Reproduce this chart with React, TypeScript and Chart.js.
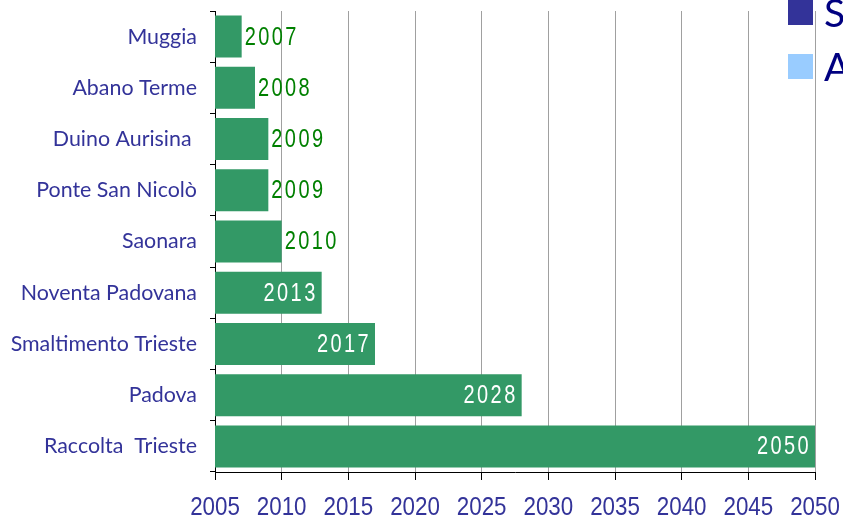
import React, { useEffect, useRef } from "react";
import { Chart, registerables } from "chart.js";

Chart.register(...registerables);

const categories = [
  "Muggia",
  "Abano Terme",
  "Duino Aurisina ",
  "Ponte San Nicolò",
  "Saonara",
  "Noventa Padovana",
  "Smaltimento Trieste",
  "Padova",
  "Raccolta  Trieste",
];
const startYear = 2005;
const endYears = [2007, 2008, 2009, 2009, 2010, 2013, 2017, 2028, 2050];
const axisMin = 2005;
const axisMax = 2050;
const axisStep = 5;
const legendLabels = ["S", "A"];
const legendColors = ["#333399", "#99CCFF"];

const BAR = "#339966";
const NAVY = "#333399";
const NUM_FONT = "'Liberation Sans', Arial, sans-serif";

const labelPlugin = {
  id: "barLabels",
  afterDatasetsDraw(chart: any) {
    const ctx = chart.ctx;
    const meta = chart.getDatasetMeta(0);
    const sx = 0.8;
    ctx.save();
    ctx.font = `25px ${NUM_FONT}`;
    (ctx as any).letterSpacing = "3px";
    ctx.textBaseline = "middle";
    meta.data.forEach((el: any, i: number) => {
      const v = endYears[i];
      const inside = v - startYear >= 8;
      const txt = String(v);
      ctx.save();
      if (inside) {
        ctx.fillStyle = "#ffffff";
        ctx.textAlign = "right";
        ctx.translate(el.x - 4, el.y + 1);
      } else {
        ctx.fillStyle = "#008000";
        ctx.textAlign = "left";
        ctx.translate(el.x + 3, el.y + 1);
      }
      ctx.scale(sx, 1);
      ctx.fillText(txt, 0, 0);
      ctx.restore();
    });
    ctx.restore();
  },
};

const xLabelPlugin = {
  id: "xLabels",
  afterDraw(chart: any) {
    const ctx = chart.ctx;
    const xs = chart.scales.x;
    ctx.save();
    ctx.font = `26px ${NUM_FONT}`;
    ctx.fillStyle = NAVY;
    ctx.textAlign = "center";
    ctx.textBaseline = "middle";
    xs.ticks.forEach((t: any) => {
      const px = xs.getPixelForValue(t.value);
      ctx.save();
      ctx.translate(px, xs.top + 36);
      ctx.scale(0.86, 1);
      ctx.fillText(String(t.value), 0, 0);
      ctx.restore();
    });
    ctx.restore();
  },
};

const legendPlugin = {
  id: "clippedLegend",
  afterDraw(chart: any) {
    const ctx = chart.ctx;
    ctx.save();
    const x = chart.scales.x.getPixelForValue(axisMax) - 27;
    legendLabels.forEach((lab, i) => {
      const y = i * 54;
      ctx.fillStyle = legendColors[i];
      ctx.fillRect(x, y, 25, 25);
      ctx.fillStyle = "#000080";
      ctx.font = "39px Lato, sans-serif";
      ctx.textBaseline = "middle";
      ctx.textAlign = "left";
      ctx.fillText(lab, x + 36, y + 14);
    });
    ctx.restore();
  },
};

export default function App() {
  const ref = useRef<HTMLCanvasElement>(null);
  useEffect(() => {
    if (!ref.current) return;
    const chart = new Chart(ref.current, {
      type: "bar",
      data: {
        labels: categories,
        datasets: [
          {
            data: endYears.map((v) => [startYear, v]) as any,
            backgroundColor: BAR,
            borderWidth: 0,
            barPercentage: 0.82,
            categoryPercentage: 1,
          },
        ],
      },
      options: {
        indexAxis: "y",
        responsive: false,
        animation: false,
        layout: { padding: { left: 0, right: 28, top: 11, bottom: 0 } },
        plugins: {
          legend: { display: false },
          tooltip: { enabled: false },
        },
        scales: {
          x: {
            type: "linear",
            min: axisMin,
            max: axisMax,
            ticks: {
              stepSize: axisStep,
              display: false,
            },
            grid: {
              color: "#a0a0a0",
              lineWidth: 1,
              tickColor: "#000000",
              tickLength: 8,
            },
            border: { color: "#000000", width: 1 },
            afterFit: (s: any) => {
              s.height = 47;
              s.paddingLeft = 0;
              s.paddingRight = 0;
            },
          },
          y: {
            offset: true,
            ticks: {
              color: NAVY,
              font: { family: "Lato, sans-serif", size: 21.4, lineHeight: 1.03 },
              padding: 13,
            },
            grid: {
              display: true,
              drawOnChartArea: false,
              tickColor: "#000000",
              tickLength: 5,
              offset: true,
            },
            border: { color: "#000000", width: 1 },
            afterFit: (s: any) => {
              s.width = 215;
              s.paddingTop = 0;
              s.paddingBottom = 0;
            },
          },
        },
      },
      plugins: [labelPlugin, xLabelPlugin, legendPlugin],
    });
    return () => chart.destroy();
  }, []);
  return (
    <div style={{ position: "absolute", left: 0, top: 0, width: 843, height: 519, background: "#fff" }}>
      <canvas ref={ref} width={843} height={519} />
    </div>
  );
}
